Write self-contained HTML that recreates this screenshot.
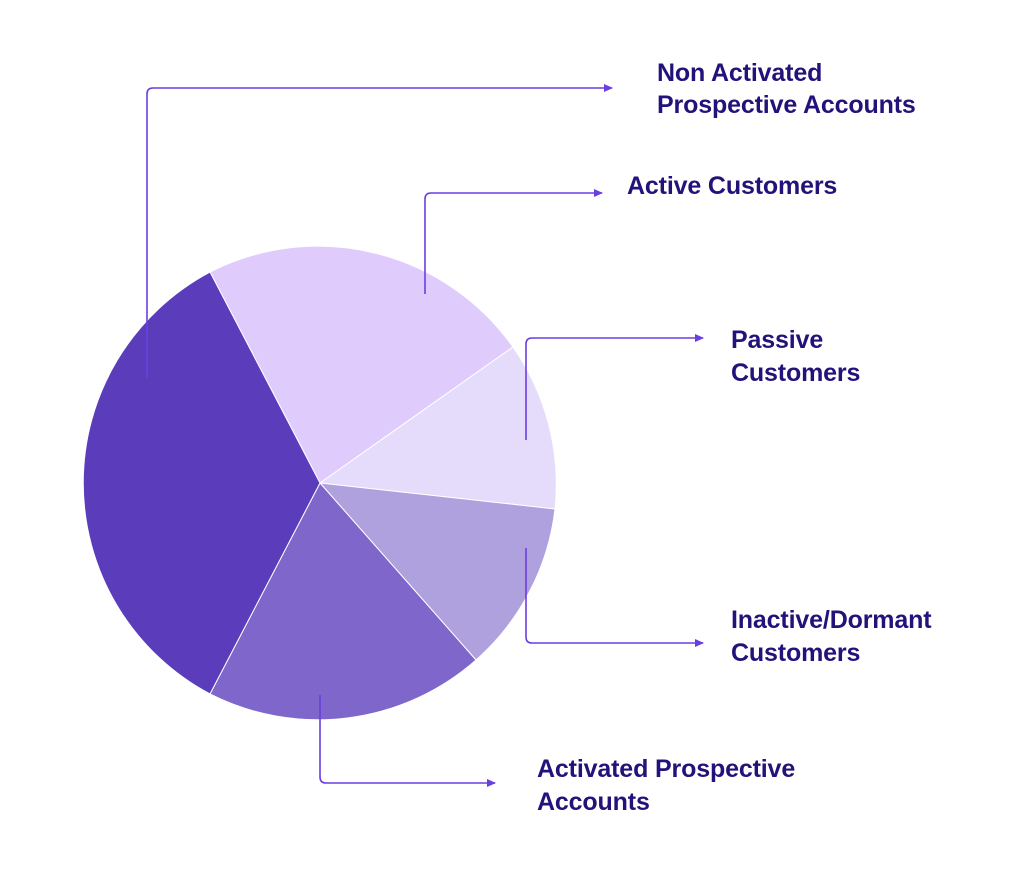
<!DOCTYPE html>
<html><head><meta charset="utf-8"><style>
html,body{margin:0;padding:0;background:#fff;}
svg{display:block}
text{font-family:"Liberation Sans",sans-serif;font-weight:bold;font-size:25px;fill:#22127a;letter-spacing:-0.15px}
</style></head><body>
<svg width="1024" height="873" viewBox="0 0 1024 873" xmlns="http://www.w3.org/2000/svg">
<defs><marker id="a" markerWidth="10" markerHeight="10" refX="8" refY="5" orient="auto" markerUnits="userSpaceOnUse"><path d="M0,1 L9,5 L0,9 z" fill="#6a3ee0"/></marker></defs>
<g stroke="#fff" stroke-width="1">
<path d="M320,483 L210,272 A239,239 0 0 1 513,347 Z" fill="#dfccfd"/>
<path d="M320,483 L513,347 A239,239 0 0 1 555,509 Z" fill="#e5dcfb"/>
<path d="M320,483 L555,509 A239,239 0 0 1 476,660 Z" fill="#afa0de"/>
<path d="M320,483 L476,660 A239,239 0 0 1 210,694 Z" fill="#7e66cb"/>
<path d="M320,483 L210,694 A239,239 0 0 1 210,272 Z" fill="#5b3dbb"/>
</g>
<g fill="none" stroke="#6a3ee0" stroke-width="1.6">
<path d="M147,378 V94 Q147,88 153,88 H612" marker-end="url(#a)"/>
<path d="M425,294 V199 Q425,193 431,193 H602" marker-end="url(#a)"/>
<path d="M526,440 V344 Q526,338 532,338 H703" marker-end="url(#a)"/>
<path d="M526,548 V637 Q526,643 532,643 H703" marker-end="url(#a)"/>
<path d="M320,695 V777 Q320,783 326,783 H495" marker-end="url(#a)"/>
</g>
<text x="657" y="81">Non Activated</text>
<text x="657" y="113">Prospective Accounts</text>
<text x="627" y="194">Active Customers</text>
<text x="731" y="348">Passive</text>
<text x="731" y="381">Customers</text>
<text x="731" y="628">Inactive/Dormant</text>
<text x="731" y="661">Customers</text>
<text x="537" y="777">Activated Prospective</text>
<text x="537" y="810">Accounts</text>
</svg>
</body></html>
